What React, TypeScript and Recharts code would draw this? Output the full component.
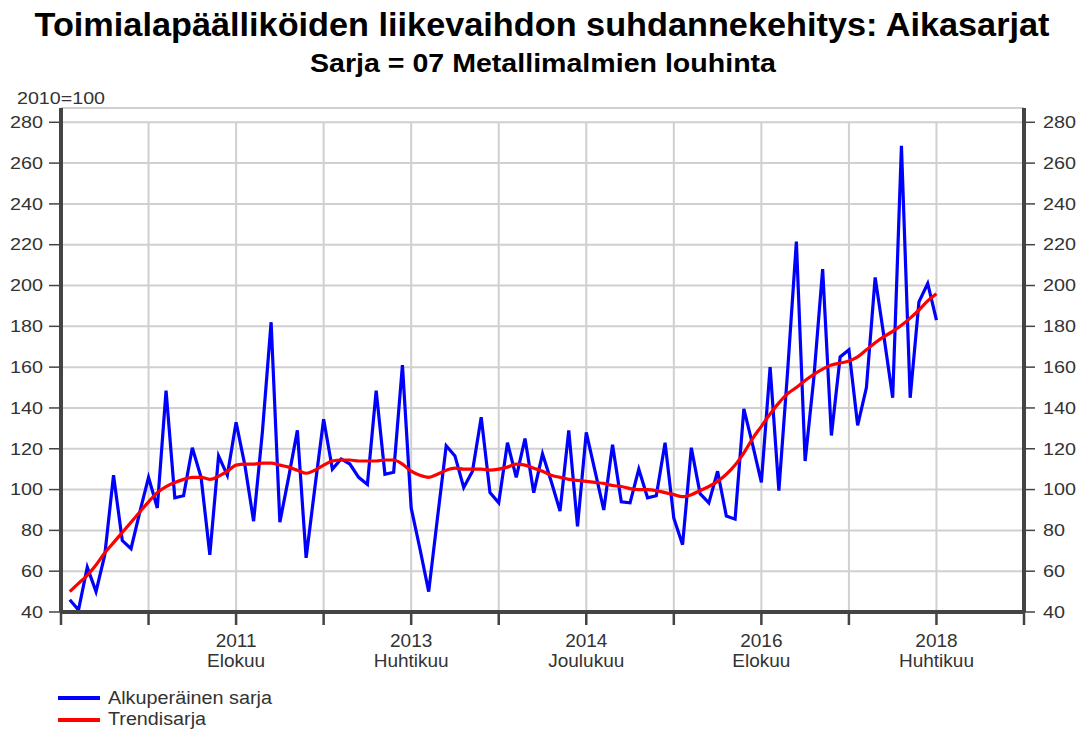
import React from 'react';
import { LineChart, Line, XAxis, YAxis, CartesianGrid, ReferenceLine } from 'recharts';

// Monthly index: 0 = 2010 Tammikuu ... 99 = 2018 Huhtikuu
const originalSeries: number[] = [
  46, 41, 62, 50, 68, 107, 75, 71, 89, 106,
  91, 148.5, 96, 97, 120.5, 106, 68, 116.5, 107, 133,
  112, 84.5, 128, 182, 84, 106, 129, 66.5, 101, 134.5,
  110, 115, 112.5, 106, 102.5, 148.5, 107.5, 108.5, 161, 91,
  71, 50, 86, 121.5, 116.5, 101, 109, 135.5, 98.5, 93.5,
  123, 106, 125, 98.5, 117.5, 104, 89.5, 129, 82, 128,
  109, 90, 122, 94, 93.5, 110, 96, 97, 123, 86,
  73, 120.5, 98, 93.5, 109, 87, 85.5, 139.5, 122, 103.5,
  160, 99.5, 158, 221.5, 114, 155, 208, 126.5, 165, 168.5,
  131.5, 150, 204, 175, 145, 268.5, 145, 192, 201, 183,
];

const trendSeries: number[] = [
  50, 54, 58, 63, 69, 74, 79, 84, 89, 94,
  98.5, 101.5, 103.5, 105, 106, 106, 105, 106.5, 109, 112,
  112.5, 112.5, 113, 113, 112, 111, 109.5, 108, 109.5, 112,
  114, 114.5, 114.5, 114, 114, 114, 114.5, 114.5, 112.5, 109,
  107, 106, 107.5, 109.5, 110.5, 110, 110, 110, 109.5, 110,
  111, 112.5, 112, 110.5, 109, 107, 106, 105, 104.5, 104,
  103.5, 103, 102, 101.5, 100.5, 100, 100, 99.5, 98.5, 97.5,
  96.5, 97.5, 99.5, 101.5, 104, 107.5, 112, 118, 125, 131,
  137, 142.5, 147, 150, 153.5, 156.5, 159, 161, 162, 163,
  165, 168.5, 172, 175, 177.5, 180.5, 184, 188, 192.5, 196,
];

const labelTickIndex: number[] = [19, 39, 59, 79, 99];
const labelTickYears: string[] = ['2011', '2013', '2014', '2016', '2018'];
const labelTickMonths: string[] = ['Elokuu', 'Huhtikuu', 'Joulukuu', 'Elokuu', 'Huhtikuu'];
const xAxisTicks: number[] = [-1, 9, 19, 29, 39, 49, 59, 69, 79, 89, 99, 109];
const verticalGridTicks: number[] = [9, 19, 29, 39, 49, 59, 69, 79, 89, 99];
const yTicks: number[] = [40, 60, 80, 100, 120, 140, 160, 180, 200, 220, 240, 260, 280];

const data = originalSeries.map((v, i) => ({ i, original: v, trend: trendSeries[i] }));

const FONT = "'Liberation Sans', Arial, Helvetica, sans-serif";
const AXIS = '#444';
const GRID = '#d0d0d0';
const TXT = '#333';

function XTick(props: any) {
  const { x, y, payload } = props;
  const k = labelTickIndex.indexOf(payload.value);
  if (k < 0) return <g />;
  return (
    <g>
      <text x={x} y={y + 22} textAnchor="middle" fontSize={19} fill={TXT} fontFamily={FONT}>
        {labelTickYears[k]}
      </text>
      <text x={x} y={y + 42} textAnchor="middle" fontSize={19} fill={TXT} fontFamily={FONT}>
        {labelTickMonths[k]}
      </text>
    </g>
  );
}

function YTick(props: any) {
  const { x, y, payload, anchor } = props;
  const s = String(payload.value);
  return (
    <text
      x={x}
      y={y}
      dy="0.36em"
      textAnchor={anchor}
      fontSize={16}
      fill={TXT}
      fontFamily={FONT}
      textLength={s.length * 11}
      lengthAdjust="spacingAndGlyphs"
    >
      {s}
    </text>
  );
}

export default function App() {
  return (
    <div style={{ position: 'absolute', left: 0, top: 0, width: 1078, height: 729, background: '#fff' }}>
      <LineChart
        width={1078}
        height={729}
        data={data}
        margin={{ top: 108, right: 0, bottom: 77, left: 0 }}
      >
        <CartesianGrid vertical={false} stroke={GRID} strokeWidth={2} />
        {verticalGridTicks.map((g) => (
          <ReferenceLine
            key={g}
            segment={[
              { x: g, y: 40 },
              { x: g, y: 280 },
            ]}
            stroke={GRID}
            strokeWidth={2}
          />
        ))}
        <XAxis
          dataKey="i"
          type="number"
          domain={[-1, 109]}
          ticks={xAxisTicks}
          interval={0}
          allowDataOverflow
          height={40}
          tickSize={13}
          tickMargin={0}
          axisLine={{ stroke: AXIS, strokeWidth: 4 }}
          tickLine={{ stroke: AXIS, strokeWidth: 2.5 }}
          tick={<XTick />}
        />
        <YAxis
          type="number"
          domain={[40, 287]}
          ticks={yTicks}
          interval={0}
          allowDataOverflow
          width={61}
          tickSize={12}
          tickMargin={6}
          axisLine={{ stroke: AXIS, strokeWidth: 4 }}
          tickLine={{ stroke: AXIS, strokeWidth: 1.5 }}
          tick={<YTick anchor="end" />}
        />
        <YAxis
          yAxisId="right"
          orientation="right"
          type="number"
          domain={[40, 287]}
          ticks={yTicks}
          interval={0}
          allowDataOverflow
          width={54}
          tickSize={11}
          tickMargin={8}
          axisLine={{ stroke: AXIS, strokeWidth: 4 }}
          tickLine={{ stroke: AXIS, strokeWidth: 1.5 }}
          tick={<YTick anchor="start" />}
        />
        <Line
          type="linear"
          dataKey="original"
          stroke="#0000ff"
          strokeWidth={3.2}
          dot={false}
          isAnimationActive={false}
        />
        <Line
          type="monotone"
          dataKey="trend"
          stroke="#ff0000"
          strokeWidth={3.2}
          dot={false}
          isAnimationActive={false}
        />
      </LineChart>
      <svg
        width={1078}
        height={729}
        style={{ position: 'absolute', left: 0, top: 0, pointerEvents: 'none' }}
      >
        <text
          x={542}
          y={36}
          textAnchor="middle"
          fontSize={33}
          fontWeight="bold"
          fill="#000"
          fontFamily={FONT}
          textLength={1015}
          lengthAdjust="spacingAndGlyphs"
        >
          Toimialapäälliköiden liikevaihdon suhdannekehitys: Aikasarjat
        </text>
        <text
          x={543}
          y={72}
          textAnchor="middle"
          fontSize={25}
          fontWeight="bold"
          fill="#000"
          fontFamily={FONT}
          textLength={466}
          lengthAdjust="spacingAndGlyphs"
        >
          Sarja = 07 Metallimalmien louhinta
        </text>
        <text
          x={17}
          y={104}
          fontSize={16}
          fill={TXT}
          fontFamily={FONT}
          textLength={88}
          lengthAdjust="spacingAndGlyphs"
        >
          2010=100
        </text>
        <line x1={58} y1={698} x2={100} y2={698} stroke="#0000ff" strokeWidth={4} />
        <text x={108} y={704} fontSize={18} fill={TXT} fontFamily={FONT} textLength={164} lengthAdjust="spacingAndGlyphs">
          Alkuperäinen sarja
        </text>
        <line x1={58} y1={720} x2={100} y2={720} stroke="#ff0000" strokeWidth={4} />
        <text x={108} y={725} fontSize={18} fill={TXT} fontFamily={FONT} textLength={98} lengthAdjust="spacingAndGlyphs">
          Trendisarja
        </text>
      </svg>
    </div>
  );
}
